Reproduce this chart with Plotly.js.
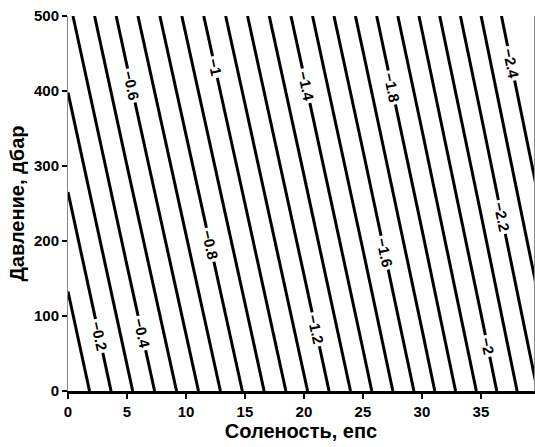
<!DOCTYPE html>
<html><head><meta charset="utf-8">
<script src="https://cdn.plot.ly/plotly-3.0.1.min.js"></script>
<style>body{margin:0;padding:0;background:#fff}#chart{width:535px;height:447px}</style>
</head><body><div id="chart"></div>
<script>
const salinity = [0, 5, 10, 15, 20, 25, 30, 35, 40];
const pressure = [0, 500];
const tfSurface = [0.0, -0.274, -0.543, -0.812, -1.083, -1.358, -1.638, -1.922, -2.212];
const tf500 = [-0.377, -0.650, -0.919, -1.188, -1.460, -1.735, -2.014, -2.299, -2.589];
const zGrid = [tfSurface, tf500];

const lineStyle = {color: '#000', width: 3};
const fam = 'Liberation Sans, Arial, sans-serif';

const oddLevels = {
  type: 'contour', x: salinity, y: pressure, z: zGrid,
  contours: {start: -2.3, end: -0.1, size: 0.2, coloring: 'none', showlabels: false},
  line: lineStyle, showscale: false, hoverinfo: 'skip'
};
const evenLevels = {
  type: 'contour', x: salinity, y: pressure, z: zGrid,
  contours: {start: -2.4, end: -0.2, size: 0.2, coloring: 'none', showlabels: true,
             labelfont: {family: fam, size: 15, color: '#000', weight: 'bold'}},
  line: lineStyle, showscale: false, hoverinfo: 'skip'
};

const layout = {
  width: 535, height: 447,
  margin: {l: 68, r: 1, t: 16, b: 56},
  paper_bgcolor: '#fff', plot_bgcolor: '#fff',
  showlegend: false,
  xaxis: {
    range: [0, 39.5], tickvals: [0, 5, 10, 15, 20, 25, 30, 35],
    ticks: 'outside', ticklen: 5, tickwidth: 1.5, tickcolor: '#000',
    showgrid: false, zeroline: false,
    showline: true, linecolor: '#000', linewidth: 2.5,
    tickfont: {family: fam, size: 15, color: '#000', weight: 'bold'},
    title: {text: 'Соленость, епс', standoff: 5,
            font: {family: fam, size: 20, color: '#000', weight: 'bold'}}
  },
  yaxis: {
    range: [0, 500], tickvals: [0, 100, 200, 300, 400, 500],
    ticks: 'outside', ticklen: 5, tickwidth: 1.5, tickcolor: '#000',
    showgrid: false, zeroline: false,
    showline: true, linecolor: '#888', linewidth: 1, mirror: true,
    tickfont: {family: fam, size: 15, color: '#000', weight: 'bold'},
    title: {text: 'Давление, дбар', standoff: 3,
            font: {family: fam, size: 20, color: '#000', weight: 'bold'}}
  }
};

Plotly.newPlot('chart', [oddLevels, evenLevels], layout, {staticPlot: true, displayModeBar: false});
</script></body></html>
